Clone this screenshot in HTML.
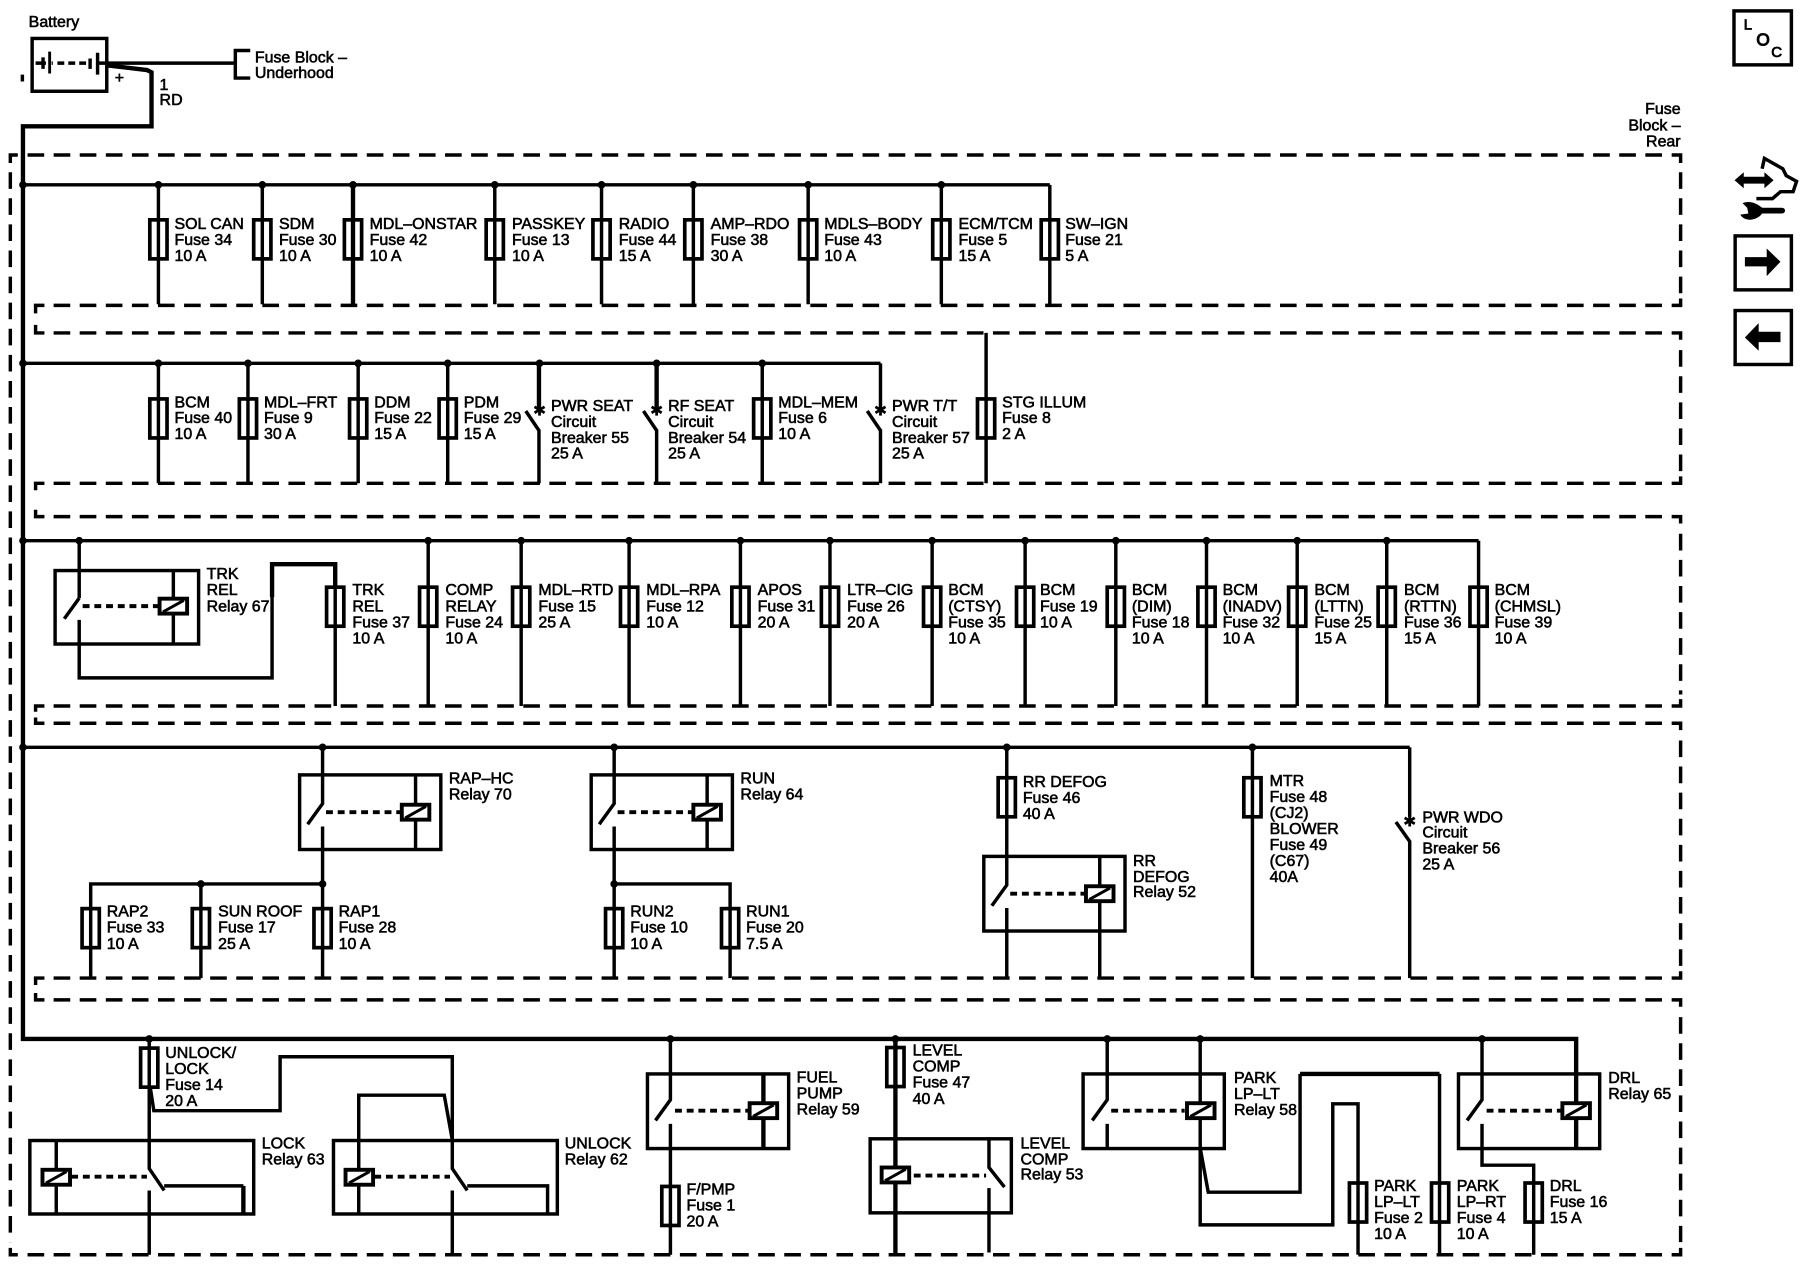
<!DOCTYPE html>
<html><head><meta charset="utf-8"><title>Fuse Block Diagram</title>
<style>
html,body{margin:0;padding:0;background:#fff}
svg{display:block}
text{font-family:"Liberation Sans",sans-serif;font-size:13.9px;fill:#000;stroke:#000;stroke-width:.5;transform:translateY(-.5px)}
.w{fill:none;stroke:#000;stroke-width:3}
.b{fill:none;stroke:#000;stroke-width:3.8}
.d{fill:none;stroke:#000;stroke-width:3;stroke-dasharray:14.5 8.23}
.c{fill:none;stroke:#000;stroke-width:3}
.s{fill:none;stroke:#000;stroke-width:3.4;stroke-dasharray:6 4.2}
</style></head><body>
<svg xmlns="http://www.w3.org/2000/svg" width="1800" height="1280" viewBox="0 0 1568 1115" preserveAspectRatio="none">
<defs>
<rect id="f" x="-7.5" y="0" width="15" height="34" fill="none" stroke="#000" stroke-width="3.2"/>
<g id="k"><rect x="-12" y="-6.5" width="24" height="13" fill="#fff" stroke="#000" stroke-width="3.4"/><path d="M-9 5L9 -5" stroke="#000" stroke-width="2.6"/></g>
<circle id="o" r="3.3" fill="#000"/>
<path id="st" d="M0 -5V5M-4.4 -2.6L4.4 2.6M-4.4 2.6L4.4 -2.6" stroke="#000" stroke-width="2.4"/>
</defs>

<!-- battery -->
<rect x="28" y="33.5" width="65" height="46" class="c"/>
<path class="w" d="M31 55H40M37.5 50V60M46 55H45M84 55H92M85 46V65"/>
<path d="M42 45H44.5V64H42ZM77 51H80V60H77Z"/>
<path class="w" d="M50 55H75" stroke-dasharray="6 3.5"/>
<path class="w" d="M94 55H204" />
<path class="w" d="M218 44H205V68H218"/>
<path class="b" d="M94 57L128 61L132 63V110H20V905H1373V1000"/>
<path class="w" d="M19.5 65V71"/>
<text x="25" y="24">Battery</text>
<text x="100" y="73">+</text>
<text x="139" y="79">1</text><text x="139" y="92">RD</text>
<text x="222" y="55">Fuse Block –</text><text x="222" y="68.500">Underhood</text>
<text x="1464" y="100" text-anchor="end">Fuse</text>
<text x="1464" y="114" text-anchor="end">Block –</text>
<text x="1464" y="128" text-anchor="end">Rear</text>

<!-- dashed enclosure -->
<g>
<path class="c" d="M9 142V135H15.500M1456.200 135H1464V142M1456.200 266H1464V260M1456.200 290H1464V296M1456.200 421H1464V415M1456.200 450H1464V456M1456.200 615H1464V609M1456.200 630H1464V636M1456.200 852H1464V846M1456.200 871H1464V877M1456.200 1093H1464V1087M15.500 1093H9V1087"/>
<path class="c" d="M38.700 266H31V273M31 283V290H38.700M38.700 421H31V427M31 444V450H38.700M38.700 615H31V620M31 625V630H38.700M38.700 852H31V858M31 865V871H38.700"/>
<path class="d" d="M24 135H1450M46.700 266H1450M46.700 290H1450M46.700 421H1450M46.700 450H1450M46.700 615H1450M46.700 630H1450M46.700 852H1450M46.700 871H1450M24 1093H1450"/>
<path class="d" d="M9 150V1082"/>
<path class="d" d="M1464 150V256M1464 305V411M1464 465V605M1464 645V842M1464 886V1082"/>
</g>

<!-- buses -->
<path class="w" d="M20 161H914.500M20 316.500H767M20 471H1288M20 651H1228"/>
<path class="b" d="M20 161V161"/>

<!-- row 1 -->
<path class="w" d="M138 161V265M228.500 161V265M431 161V265M524 161V265M604 161V265M704 161V265M820 161V265M914.500 161V265"/>
<path class="b" d="M307.500 161V265"/>
<g id="r1">
<use href="#f" x="138" y="191.500"/><use href="#f" x="228.500" y="191.500"/><use href="#f" x="307.500" y="191.500"/><use href="#f" x="431" y="191.500"/><use href="#f" x="524" y="191.500"/><use href="#f" x="604" y="191.500"/><use href="#f" x="704" y="191.500"/><use href="#f" x="820" y="191.500"/><use href="#f" x="914.500" y="191.500"/>
<use href="#o" x="20" y="161"/><use href="#o" x="138" y="161"/><use href="#o" x="228.500" y="161"/><use href="#o" x="307.500" y="161"/><use href="#o" x="431" y="161"/><use href="#o" x="524" y="161"/><use href="#o" x="604" y="161"/><use href="#o" x="704" y="161"/><use href="#o" x="820" y="161"/>
</g>
<text x="152" y="200">SOL CAN</text><text x="152" y="214">Fuse 34</text><text x="152" y="228">10 A</text>
<text x="243" y="200">SDM</text><text x="243" y="214">Fuse 30</text><text x="243" y="228">10 A</text>
<text x="322" y="200">MDL–ONSTAR</text><text x="322" y="214">Fuse 42</text><text x="322" y="228">10 A</text>
<text x="446" y="200">PASSKEY</text><text x="446" y="214">Fuse 13</text><text x="446" y="228">10 A</text>
<text x="539" y="200">RADIO</text><text x="539" y="214">Fuse 44</text><text x="539" y="228">15 A</text>
<text x="619" y="200">AMP–RDO</text><text x="619" y="214">Fuse 38</text><text x="619" y="228">30 A</text>
<text x="718" y="200">MDLS–BODY</text><text x="718" y="214">Fuse 43</text><text x="718" y="228">10 A</text>
<text x="835" y="200">ECM/TCM</text><text x="835" y="214">Fuse 5</text><text x="835" y="228">15 A</text>
<text x="928" y="200">SW–IGN</text><text x="928" y="214">Fuse 21</text><text x="928" y="228">5 A</text>

<!-- row 2 -->
<path class="w" d="M138 316.500V421M216 316.500V421M312 316.500V421M390 316.500V421M664 316.500V421M767 316.500V358M767 374V421M572 374V421M469.500 374V421M859 290V421"/>
<path class="b" d="M469.500 316.500V358M572 316.500V358"/>
<path class="w" d="M458 358L469.500 375M560.500 358L572 375M755.500 358L767 375"/>
<use href="#f" x="138" y="347.500"/><use href="#f" x="216" y="347.500"/><use href="#f" x="312" y="347.500"/><use href="#f" x="390" y="347.500"/><use href="#f" x="664" y="347.500"/><use href="#f" x="859" y="347.500"/>
<use href="#o" x="20" y="316.500"/><use href="#o" x="138" y="316.500"/><use href="#o" x="216" y="316.500"/><use href="#o" x="312" y="316.500"/><use href="#o" x="390" y="316.500"/><use href="#o" x="470" y="316.500"/><use href="#o" x="572" y="316.500"/><use href="#o" x="664" y="316.500"/>
<use href="#st" x="470" y="357"/><use href="#st" x="572" y="357"/><use href="#st" x="767" y="357"/>
<text x="152" y="355.500">BCM</text><text x="152" y="369">Fuse 40</text><text x="152" y="383">10 A</text>
<text x="230" y="355.500">MDL–FRT</text><text x="230" y="369">Fuse 9</text><text x="230" y="383">30 A</text>
<text x="326" y="355.500">DDM</text><text x="326" y="369">Fuse 22</text><text x="326" y="383">15 A</text>
<text x="404" y="355.500">PDM</text><text x="404" y="369">Fuse 29</text><text x="404" y="383">15 A</text>
<text x="480" y="358.500">PWR SEAT</text><text x="480" y="372.500">Circuit</text><text x="480" y="386.500">Breaker 55</text><text x="480" y="400">25 A</text>
<text x="582" y="358.500">RF SEAT</text><text x="582" y="372.500">Circuit</text><text x="582" y="386.500">Breaker 54</text><text x="582" y="400">25 A</text>
<text x="678" y="355.500">MDL–MEM</text><text x="678" y="369">Fuse 6</text><text x="678" y="383">10 A</text>
<text x="777" y="358.500">PWR T/T</text><text x="777" y="372.500">Circuit</text><text x="777" y="386.500">Breaker 57</text><text x="777" y="400">25 A</text>
<text x="873" y="355.500">STG ILLUM</text><text x="873" y="369">Fuse 8</text><text x="873" y="383">2 A</text>

<!-- row 3 -->
<rect x="48" y="497" width="125" height="64" class="c"/>
<path class="w" d="M69 471V521M69 540V590.500H237V520M151 497V561M69 521L56 539"/>
<path class="b" d="M237 520V491.500H292V510"/>
<path class="s" d="M72 528H138"/>
<use href="#k" x="151" y="528"/>
<path class="w" d="M292 510V615M373 471V615M454 471V615M548 471V615M645 471V615M723 471V615M812 471V615M893 471V615M972 471V615M1051 471V615M1130 471V615M1208 471V615M1288 471V615"/>
<use href="#f" x="292" y="511.500"/><use href="#f" x="373" y="511.500"/><use href="#f" x="454" y="511.500"/><use href="#f" x="548" y="511.500"/><use href="#f" x="645" y="511.500"/><use href="#f" x="723" y="511.500"/><use href="#f" x="812" y="511.500"/><use href="#f" x="893" y="511.500"/><use href="#f" x="972" y="511.500"/><use href="#f" x="1051" y="511.500"/><use href="#f" x="1130" y="511.500"/><use href="#f" x="1208" y="511.500"/><use href="#f" x="1288" y="511.500"/>
<use href="#o" x="20" y="471"/><use href="#o" x="69" y="471"/><use href="#o" x="373" y="471"/><use href="#o" x="454" y="471"/><use href="#o" x="548" y="471"/><use href="#o" x="645" y="471"/><use href="#o" x="723" y="471"/><use href="#o" x="812" y="471"/><use href="#o" x="893" y="471"/><use href="#o" x="972" y="471"/><use href="#o" x="1051" y="471"/><use href="#o" x="1130" y="471"/><use href="#o" x="1208" y="471"/>
<text x="180" y="505">TRK</text><text x="180" y="519">REL</text><text x="180" y="533">Relay 67</text>
<text x="307" y="519">TRK</text><text x="307" y="533">REL</text><text x="307" y="547">Fuse 37</text><text x="307" y="561">10 A</text>
<text x="388" y="519">COMP</text><text x="388" y="533">RELAY</text><text x="388" y="547">Fuse 24</text><text x="388" y="561">10 A</text>
<text x="469" y="519">MDL–RTD</text><text x="469" y="533">Fuse 15</text><text x="469" y="547">25 A</text>
<text x="563" y="519">MDL–RPA</text><text x="563" y="533">Fuse 12</text><text x="563" y="547">10 A</text>
<text x="660" y="519">APOS</text><text x="660" y="533">Fuse 31</text><text x="660" y="547">20 A</text>
<text x="738" y="519">LTR–CIG</text><text x="738" y="533">Fuse 26</text><text x="738" y="547">20 A</text>
<text x="826" y="519">BCM</text><text x="826" y="533">(CTSY)</text><text x="826" y="547">Fuse 35</text><text x="826" y="561">10 A</text>
<text x="906" y="519">BCM</text><text x="906" y="533">Fuse 19</text><text x="906" y="547">10 A</text>
<text x="986" y="519">BCM</text><text x="986" y="533">(DIM)</text><text x="986" y="547">Fuse 18</text><text x="986" y="561">10 A</text>
<text x="1065" y="519">BCM</text><text x="1065" y="533">(INADV)</text><text x="1065" y="547">Fuse 32</text><text x="1065" y="561">10 A</text>
<text x="1145" y="519">BCM</text><text x="1145" y="533">(LTTN)</text><text x="1145" y="547">Fuse 25</text><text x="1145" y="561">15 A</text>
<text x="1223" y="519">BCM</text><text x="1223" y="533">(RTTN)</text><text x="1223" y="547">Fuse 36</text><text x="1223" y="561">15 A</text>
<text x="1302" y="519">BCM</text><text x="1302" y="533">(CHMSL)</text><text x="1302" y="547">Fuse 39</text><text x="1302" y="561">10 A</text>

<!-- row 4 -->
<rect x="261" y="675" width="123" height="65" class="c"/>
<rect x="515" y="675" width="123" height="65" class="c"/>
<rect x="857" y="746" width="123" height="65" class="c"/>
<path class="w" d="M281 651V700L268 718M281 720V852M362 675V740M79 852V770H281M175 770V852"/>
<path class="w" d="M535 651V700L522 718M535 720V852M616 675V740M535 770H636V852"/>
<path class="w" d="M877 651V771L864 789M877 791V852M958 746V852"/>
<path class="w" d="M1091 651V852M1228 651V712M1216 716L1228 733V852"/>
<path class="s" d="M284 707.500H349M538 707.500H603M880 778.500H945"/>
<use href="#k" x="362" y="707.500"/><use href="#k" x="616" y="707.500"/><use href="#k" x="958" y="778.500"/>
<use href="#f" x="79" y="791.500"/><use href="#f" x="175" y="791.500"/><use href="#f" x="281" y="791.500"/><use href="#f" x="535" y="791.500"/><use href="#f" x="636" y="791.500"/><use href="#f" x="877" y="677.500"/><use href="#f" x="1091" y="677.500"/>
<use href="#o" x="20" y="651"/><use href="#o" x="281" y="651"/><use href="#o" x="535" y="651"/><use href="#o" x="877" y="651"/><use href="#o" x="1091" y="651"/><use href="#o" x="175" y="770"/><use href="#o" x="281" y="770"/><use href="#o" x="535" y="770"/>
<use href="#st" x="1228" y="715"/>
<text x="391" y="683">RAP–HC</text><text x="391" y="697">Relay 70</text>
<text x="645" y="683">RUN</text><text x="645" y="697">Relay 64</text>
<text x="93" y="799">RAP2</text><text x="93" y="813">Fuse 33</text><text x="93" y="827">10 A</text>
<text x="190" y="799">SUN ROOF</text><text x="190" y="813">Fuse 17</text><text x="190" y="827">25 A</text>
<text x="295" y="799">RAP1</text><text x="295" y="813">Fuse 28</text><text x="295" y="827">10 A</text>
<text x="549" y="799">RUN2</text><text x="549" y="813">Fuse 10</text><text x="549" y="827">10 A</text>
<text x="650" y="799">RUN1</text><text x="650" y="813">Fuse 20</text><text x="650" y="827">7.5 A</text>
<text x="891" y="686">RR DEFOG</text><text x="891" y="700">Fuse 46</text><text x="891" y="714">40 A</text>
<text x="987" y="755">RR</text><text x="987" y="769">DEFOG</text><text x="987" y="782">Relay 52</text>
<text x="1106" y="685">MTR</text><text x="1106" y="699">Fuse 48</text><text x="1106" y="713">(CJ2)</text><text x="1106" y="727">BLOWER</text><text x="1106" y="741">Fuse 49</text><text x="1106" y="755">(C67)</text><text x="1106" y="769">40A</text>
<text x="1239" y="717">PWR WDO</text><text x="1239" y="730">Circuit</text><text x="1239" y="744">Breaker 56</text><text x="1239" y="758">25 A</text>

<!-- row 5 -->
<rect x="26" y="993.500" width="195" height="64" class="c"/>
<rect x="290.500" y="993.500" width="195" height="64" class="c"/>
<path class="w" d="M130 905V1018L143 1037M130 1037V1093M49 994V1058M143 1033H212"/>
<path class="b" d="M212 1033V1058"/>
<path class="w" d="M131 948L134 967.500H244V920.500H394V1018L407 1037M394 1037V1093M407 1033H477V1058M312.500 1058V954H387L394 993"/>
<path class="s" d="M62 1025H128M326 1025H392"/>
<use href="#k" x="49" y="1025.500"/><use href="#k" x="313" y="1025.500"/>
<use href="#f" x="130" y="913"/>
<use href="#o" x="130" y="905"/>
<text x="144" y="922">UNLOCK/</text><text x="144" y="936">LOCK</text><text x="144" y="950">Fuse 14</text><text x="144" y="964">20 A</text>
<text x="228" y="1001">LOCK</text><text x="228" y="1015">Relay 63</text>
<text x="492" y="1001">UNLOCK</text><text x="492" y="1015">Relay 62</text>

<rect x="564" y="935.500" width="123" height="65" class="c"/>
<path class="w" d="M584 905V958L571 976M584 979V1093"/>
<path class="b" d="M665 935.500V1000.500"/>
<path class="s" d="M588 967.500H652"/>
<use href="#k" x="665" y="967.500"/>
<use href="#f" x="584" y="1033.500"/>
<use href="#o" x="584" y="905"/>
<text x="694" y="943.500">FUEL</text><text x="694" y="957.500">PUMP</text><text x="694" y="971.500">Relay 59</text>
<text x="598" y="1041">F/PMP</text><text x="598" y="1055">Fuse 1</text><text x="598" y="1069">20 A</text>

<rect x="758" y="992" width="123" height="64.500" class="c"/>
<path class="b" d="M780 905V1093"/>
<path class="w" d="M861.500 992V1017L875 1034M861.500 1035V1091"/>
<path class="s" d="M796 1024H859"/>
<use href="#k" x="780" y="1023.500"/>
<use href="#f" x="780" y="912.500"/>
<use href="#o" x="780" y="905"/>
<text x="795" y="920">LEVEL</text><text x="795" y="934">COMP</text><text x="795" y="948">Fuse 47</text><text x="795" y="962">40 A</text>
<text x="889" y="1001">LEVEL</text><text x="889" y="1015">COMP</text><text x="889" y="1028">Relay 53</text>

<rect x="943.500" y="935.500" width="123" height="65" class="c"/>
<path class="w" d="M964.500 905V958L951.500 976M964.500 979V1000M1045.500 905V1067H1161V961.500H1183V1093"/>
<path class="w" d="M1045.500 1000L1052.500 1038.500H1132.500V935.500"/>
<path class="b" d="M1132.500 935.500H1254"/>
<path class="w" d="M1254 935.500V1093"/>
<path class="s" d="M968 967.500H1032"/>
<use href="#k" x="1046" y="967.500"/>
<use href="#f" x="1183" y="1030.500"/><use href="#f" x="1254.500" y="1030.500"/>
<use href="#o" x="964.500" y="905"/><use href="#o" x="1045.500" y="905"/>
<text x="1075" y="944">PARK</text><text x="1075" y="958">LP–LT</text><text x="1075" y="972">Relay 58</text>
<text x="1197" y="1038">PARK</text><text x="1197" y="1052">LP–LT</text><text x="1197" y="1066">Fuse 2</text><text x="1197" y="1080">10 A</text>
<text x="1269" y="1038">PARK</text><text x="1269" y="1052">LP–RT</text><text x="1269" y="1066">Fuse 4</text><text x="1269" y="1080">10 A</text>

<rect x="1270.500" y="935.500" width="123" height="65" class="c"/>
<path class="w" d="M1291 905V958L1278 976M1291 979V1015H1336V1093"/>
<path class="s" d="M1295 967.500H1360"/>
<use href="#k" x="1373" y="967.500"/>
<use href="#f" x="1336" y="1030.500"/>
<use href="#o" x="1291" y="905"/>
<text x="1401" y="944">DRL</text><text x="1401" y="958">Relay 65</text>
<text x="1350" y="1038">DRL</text><text x="1350" y="1052">Fuse 16</text><text x="1350" y="1066">15 A</text>

<!-- right icons -->
<rect x="1510.500" y="9.500" width="50" height="47" fill="none" stroke="#000" stroke-width="3"/>
<text x="1519" y="26" style="font-size:13px;stroke-width:.7">L</text>
<text x="1530" y="40" style="font-size:15px;stroke-width:.9">O</text>
<text x="1543" y="50" style="font-size:13px;stroke-width:.7">C</text>
<path d="M1511 157L1519 150V154H1537V150L1545 157L1537 164V160H1519V164Z"/>
<path fill="none" stroke="#000" stroke-width="3" d="M1535 147L1537 138L1553 147L1556 153L1565 158L1562 167L1551 167L1544 173L1530 173"/>
<path d="M1518 177C1524 174 1532 178 1535 181H1552C1556 181 1556 186 1552 186H1535C1531 192 1520 194 1516 187L1523 186L1522 181Z"/>
<rect x="1511.500" y="205.500" width="49" height="47" fill="none" stroke="#000" stroke-width="3"/>
<path d="M1520 224H1539V216.500L1551 228L1539 240.500V232H1520Z"/>
<rect x="1511.500" y="270.500" width="49" height="47" fill="none" stroke="#000" stroke-width="3"/>
<path d="M1551 289H1532V281.500L1520 294L1532 305.500V298H1551Z"/>
</svg>
</body></html>
